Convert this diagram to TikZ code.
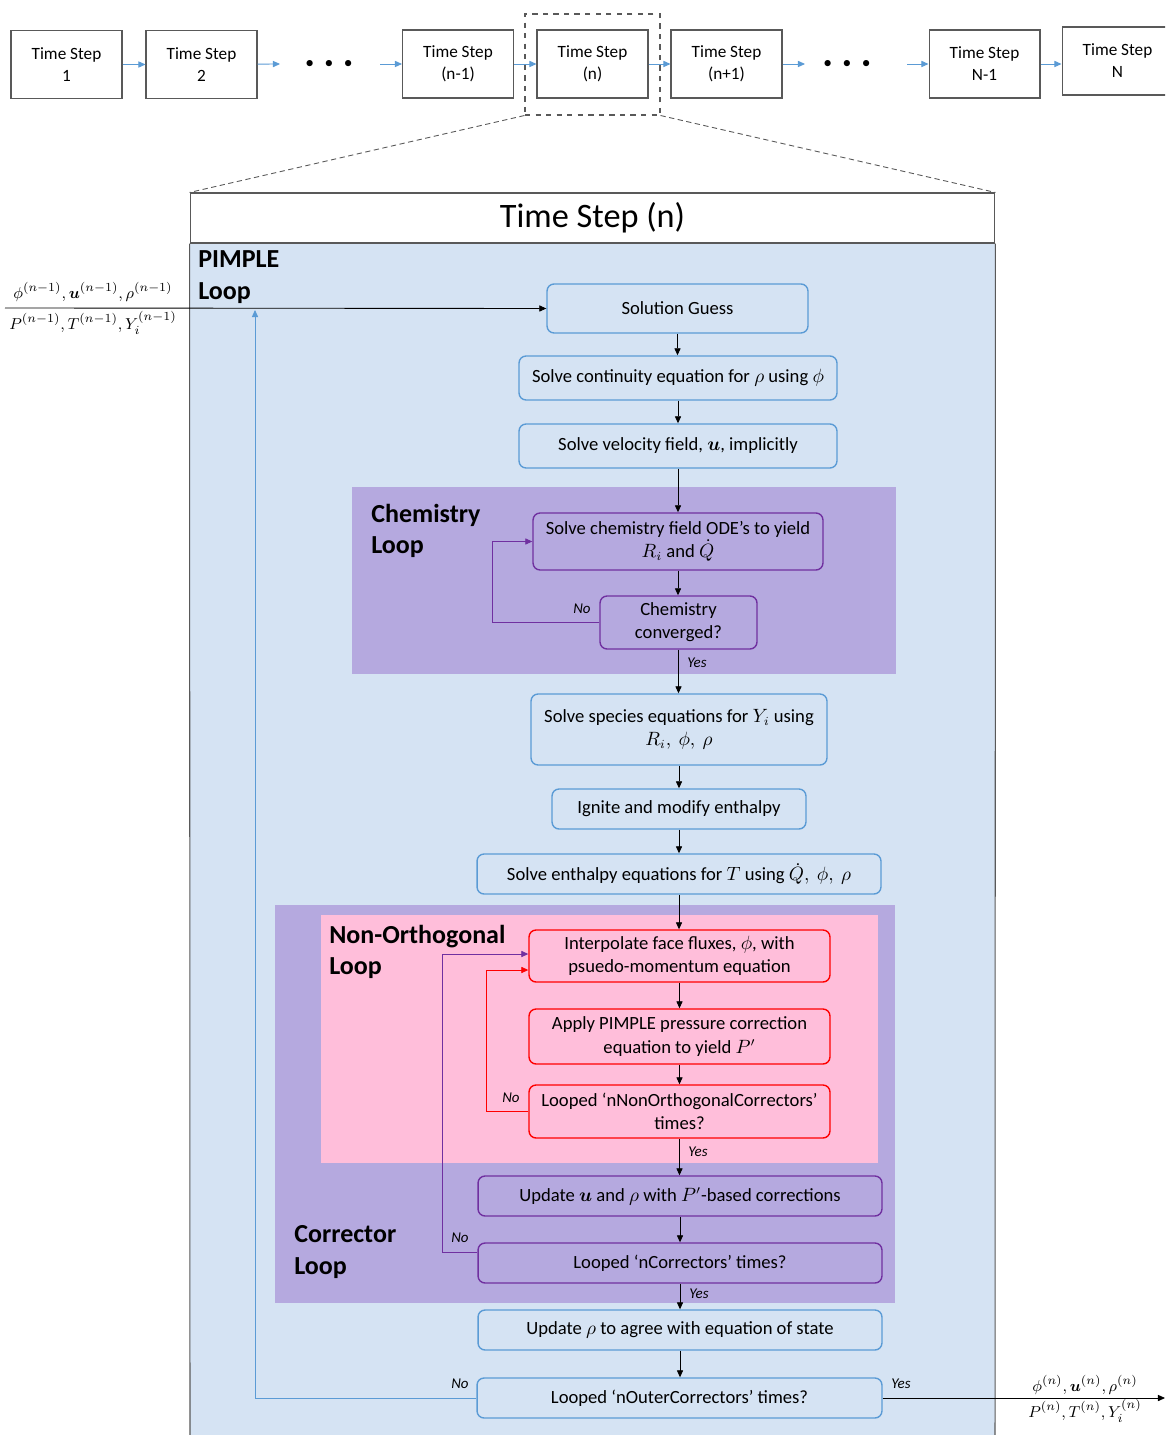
\documentclass[tikz,border=0pt]{standalone}
\usepackage{amsmath}
\usepackage{amssymb}
\usepackage{bm}
\usepackage{xcolor}
\usepackage{fontspec}
\setmainfont{Carlito}
\usetikzlibrary{arrows.meta}

\definecolor{pimplefill}{HTML}{D5E3F3}
\definecolor{pimpleedge}{HTML}{5B9BD5}
\definecolor{chemfill}{HTML}{B5A9DF}
\definecolor{chemedge}{HTML}{7030A0}
\definecolor{nonorthfill}{HTML}{FFBEDA}
\definecolor{nonorthedge}{HTML}{FF0000}
\definecolor{framegray}{HTML}{595959}

\tikzset{
  tsbox/.style={draw=framegray, line width=0.6pt, fill=white, align=center,
    minimum width=2.22cm, minimum height=1.36cm, font=\fontsize{9.8}{12.5}\selectfont},
  tsarrow/.style={draw=pimpleedge, line width=0.5pt, -{Triangle[length=4pt,width=3.5pt]}},
  flowbox/.style={draw=pimpleedge, line width=0.8pt, fill=pimplefill, rounded corners=4pt,
    align=center, inner sep=2pt, font=\fontsize{10.6}{13.2}\selectfont},
  chembox/.style={flowbox, draw=chemedge, fill=chemfill},
  nonorthbox/.style={flowbox, draw=nonorthedge, fill=nonorthfill},
  flow/.style={draw=black, line width=0.5pt, -{Triangle[length=4pt,width=3.5pt]}},
  looplabel/.style={anchor=west, align=left, inner sep=0pt, font=\fontsize{14.8}{18}\selectfont\bfseries},
  answer/.style={inner sep=0pt, font=\fontsize{8.5}{10}\selectfont\itshape},
  varlabel/.style={inner sep=0pt, font=\fontsize{9.5}{12}\selectfont}
}

\begin{document}
\begin{tikzpicture}[x=0.02cm, y=-0.02cm]
\clip (0,0) rectangle (1165,1435);
\fill[white] (0,0) rectangle (1165,1435);

\node[tsbox] (ts1) at (66.5,64.5) {Time Step\\1};
\node[tsbox] (ts2) at (201.5,64.5) {Time Step\\2};
\node (dotsa) at (329,64) {\textbullet\hspace{6pt}\textbullet\hspace{6pt}\textbullet};
\node[tsbox] (tsm1) at (458,64) {Time Step\\(n-1)};
\node[tsbox] (tsn) at (592.5,64) {Time Step\\(n)};
\node[tsbox] (tsp1) at (726.5,64) {Time Step\\(n+1)};
\node (dotsb) at (847,64) {\textbullet\hspace{6pt}\textbullet\hspace{6pt}\textbullet};
\node[tsbox] (tsNm1) at (984.5,64) {Time Step\\N-1};
\node[tsbox] (tsN) at (1117.5,61) {Time Step\\N};
\coordinate (dotsain) at (280,64);
\coordinate (dotsaout) at (380,64);
\coordinate (dotsbin) at (805,64);
\coordinate (dotsbout) at (907,64);
\draw[tsarrow] (ts1) -- (ts2);
\draw[tsarrow] (ts2) -- (dotsain);
\draw[tsarrow] (dotsaout) -- (tsm1);
\draw[tsarrow] (tsm1) -- (tsn);
\draw[tsarrow] (tsn) -- (tsp1);
\draw[tsarrow] (tsp1) -- (dotsbin);
\draw[tsarrow] (dotsbout) -- (tsNm1);
\draw[tsarrow] (tsNm1.east) -- (tsN.west |- tsNm1.east);

\node[draw=framegray, dashed, line width=0.6pt, minimum width=2.7cm, minimum height=2.02cm] (zoom) at (592.5,64.5) {};

\fill[pimplefill] (190,243) rectangle (995,1445);
\node[draw=framegray, line width=0.6pt, fill=white, minimum width=16.1cm, minimum height=1cm,
  font=\fontsize{19.5}{22}\selectfont] (title) at (592.5,218) {Time Step (n)};
\draw[framegray, line width=0.6pt] (title.south west) -- (190,1445);
\draw[framegray, line width=0.6pt] (title.south east) -- (995,1445);
\draw[framegray, densely dashed, line width=0.5pt] (zoom.south west) -- (title.north west);
\draw[framegray, densely dashed, line width=0.5pt] (zoom.south east) -- (title.north east);

\fill[chemfill] (352,487) rectangle (896,674);
\fill[chemfill] (275,905) rectangle (895,1303);
\fill[nonorthfill] (321,915) rectangle (878,1163);

\node[looplabel] (pimplelbl) at (198,277) {PIMPLE\\Loop};
\node[looplabel] (chemlbl) at (371,531) {Chemistry\\Loop};
\node[looplabel] (nonorthlbl) at (329,952) {Non-Orthogonal\\Loop};
\node[looplabel] (correctorlbl) at (294,1252) {Corrector\\Loop};

\node[flowbox, minimum width=5.22cm, minimum height=0.98cm] (guess) at (677.5,308.5) {Solution Guess};
\node[flowbox, minimum width=6.36cm, minimum height=0.88cm] (continuity) at (678,378) {Solve continuity equation for $\rho$ using $\phi$};
\node[flowbox, minimum width=6.36cm, minimum height=0.88cm] (velocity) at (678,446) {Solve velocity field, $\bm{u}$, implicitly};
\node[chembox, minimum width=5.8cm, minimum height=1.14cm] (chemode) at (678,541.5) {Solve chemistry field ODE’s to yield\\$R_i$ and $\dot{Q}$};
\node[chembox, minimum width=3.14cm, minimum height=1.06cm] (chemconv) at (678.5,622.5) {Chemistry\\converged?};
\node[flowbox, minimum width=5.92cm, minimum height=1.42cm] (species) at (679,729.5) {Solve species equations for $Y_i$ using\\$R_i,\ \phi,\ \rho$};
\node[flowbox, minimum width=5.08cm, minimum height=0.8cm] (ignite) at (679,809) {Ignite and modify enthalpy};
\node[flowbox, minimum width=8.08cm, minimum height=0.8cm] (enthalpy) at (679,874) {Solve enthalpy equations for $T$ using $\dot{Q},\ \phi,\ \rho$};
\node[nonorthbox, minimum width=6.02cm, minimum height=1.04cm] (interp) at (679.5,956) {Interpolate face fluxes, $\phi$, with\\psuedo-momentum equation};
\node[nonorthbox, minimum width=6.02cm, minimum height=1.1cm] (pressure) at (679.5,1036.5) {Apply PIMPLE pressure correction\\equation to yield $P'$};
\node[nonorthbox, minimum width=6.02cm, minimum height=1.06cm] (nonorthcheck) at (679.5,1111.5) {Looped ‘nNonOrthogonalCorrectors’\\times?};
\node[chembox, minimum width=8.08cm, minimum height=0.8cm] (update) at (680,1196) {Update $\bm{u}$ and $\rho$ with $P'$-based corrections};
\node[chembox, minimum width=8.08cm, minimum height=0.8cm] (corrcheck) at (680,1263) {Looped ‘nCorrectors’ times?};
\node[flowbox, minimum width=8.08cm, minimum height=0.8cm] (density) at (680,1330) {Update $\rho$ to agree with equation of state};
\node[flowbox, minimum width=8.1cm, minimum height=0.8cm] (outercheck) at (679.5,1398) {Looped ‘nOuterCorrectors’ times?};

\draw[flow] (guess.south) -- (guess.south |- continuity.north);
\draw[flow] (continuity.south) -- (continuity.south |- velocity.north);
\draw[flow] (velocity.south) -- (velocity.south |- chemode.north);
\draw[flow] (chemode.south) -- (chemode.south |- chemconv.north);
\draw[flow] (chemconv.south) -- (chemconv.south |- species.north);
\draw[flow] (species.south) -- (species.south |- ignite.north);
\draw[flow] (ignite.south) -- (ignite.south |- enthalpy.north);
\draw[flow] (enthalpy.south) -- (enthalpy.south |- interp.north);
\draw[flow] (interp.south) -- (interp.south |- pressure.north);
\draw[flow] (pressure.south) -- (pressure.south |- nonorthcheck.north);
\draw[flow] (nonorthcheck.south) -- (nonorthcheck.south |- update.north);
\draw[flow] (update.south) -- (update.south |- corrcheck.north);
\draw[flow] (corrcheck.south) -- (corrcheck.south |- density.north);
\draw[flow] (density.south) -- (density.south |- outercheck.north);

\draw[flow, draw=chemedge] (chemconv.west) -- ++(-107,0) |- (chemode.west);
\draw[flow, draw=nonorthedge] (nonorthcheck.west) -- ++(-42,0) |- ([yshift=-0.28cm]interp.west);
\draw[flow, draw=chemedge] ([yshift=0.22cm]corrcheck.west) -- ++(-35,0) |- ([yshift=0.04cm]interp.west);
\coordinate (pimplein) at (255,310);
\draw[flow, draw=pimpleedge] (outercheck.west) -| (pimplein);

\node[answer] (chemno) at (582,609) {No};
\node[answer] (chemyes) at (697,663) {Yes};
\node[answer] (nonorthno) at (511,1098) {No};
\node[answer] (nonorthyes) at (698,1152) {Yes};
\node[answer] (corrno) at (460,1238) {No};
\node[answer] (corryes) at (699,1294) {Yes};
\node[answer] (outerno) at (460,1384) {No};
\node[answer] (outeryes) at (901,1384) {Yes};

\coordinate (inputstart) at (5,308);
\coordinate (outputend) at (1165,1398);
\draw[flow] (inputstart) -- (guess.west);
\draw[flow] (outercheck.east) -- (outputend);
\node[varlabel] (inold) at (93,292) {$\phi^{(n-1)},\bm{u}^{(n-1)},\rho^{(n-1)}$};
\node[varlabel] (inoldb) at (93,323) {$P^{(n-1)},T^{(n-1)},Y_i^{(n-1)}$};
\node[varlabel] (outnew) at (1085,1385) {$\phi^{(n)},\bm{u}^{(n)},\rho^{(n)}$};
\node[varlabel] (outnewb) at (1085,1411) {$P^{(n)},T^{(n)},Y_i^{(n)}$};
\end{tikzpicture}
\end{document}
